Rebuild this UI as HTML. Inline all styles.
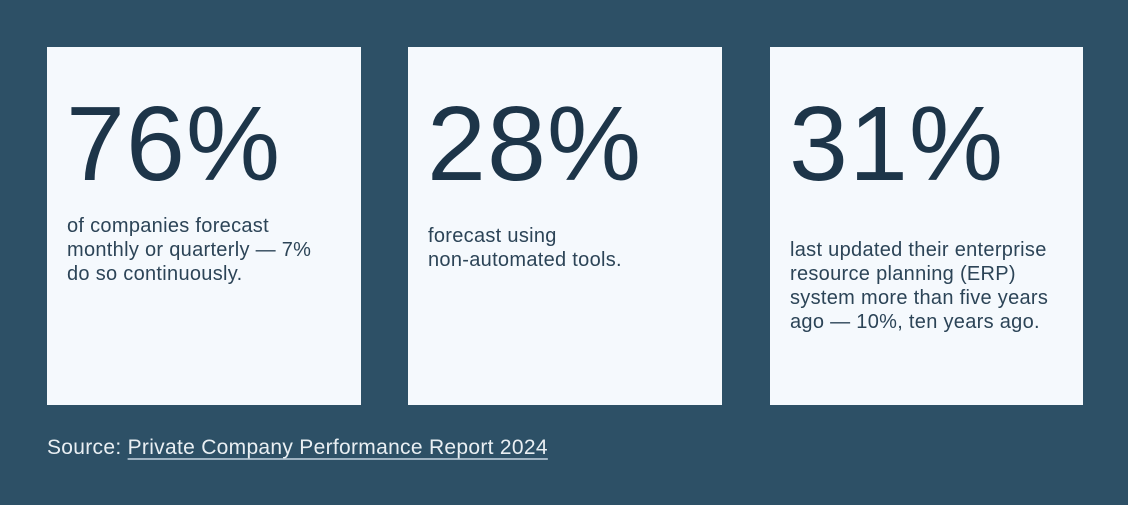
<!DOCTYPE html>
<html><head><style>
body{margin:0;width:1128px;height:505px;background:#2d5066;font-family:"Liberation Sans",sans-serif;position:relative;overflow:hidden}
.card{position:absolute;top:47px;height:358px;background:#f5f9fd}
.big{position:absolute;left:19px;font-size:106px;line-height:1;color:#1d3549;letter-spacing:1px}
.txt{position:absolute;left:20px;font-size:20px;line-height:24px;color:#2c4457;letter-spacing:0.3px}
.src{position:absolute;left:47px;top:436px;font-size:21px;color:#e9eff3;letter-spacing:0.3px}
.src u{text-decoration-color:#9fb3c2;text-underline-offset:4px}
</style></head><body>
<div class="card" style="left:47px;width:314px"><div class="big" style="top:44px">76%</div><div class="txt" style="top:167px">of companies forecast<br>monthly or quarterly — 7%<br>do so continuously.</div></div>
<div class="card" style="left:408px;width:314px"><div class="big" style="top:44px">28%</div><div class="txt" style="top:177px">forecast using<br>non-automated tools.</div></div>
<div class="card" style="left:770px;width:313px"><div class="big" style="top:44px">31%</div><div class="txt" style="top:191px">last updated their enterprise<br>resource planning (ERP)<br>system more than five years<br>ago — 10%, ten years ago.</div></div>
<div class="src">Source: <u>Private Company Performance Report 2024</u></div>
</body></html>
